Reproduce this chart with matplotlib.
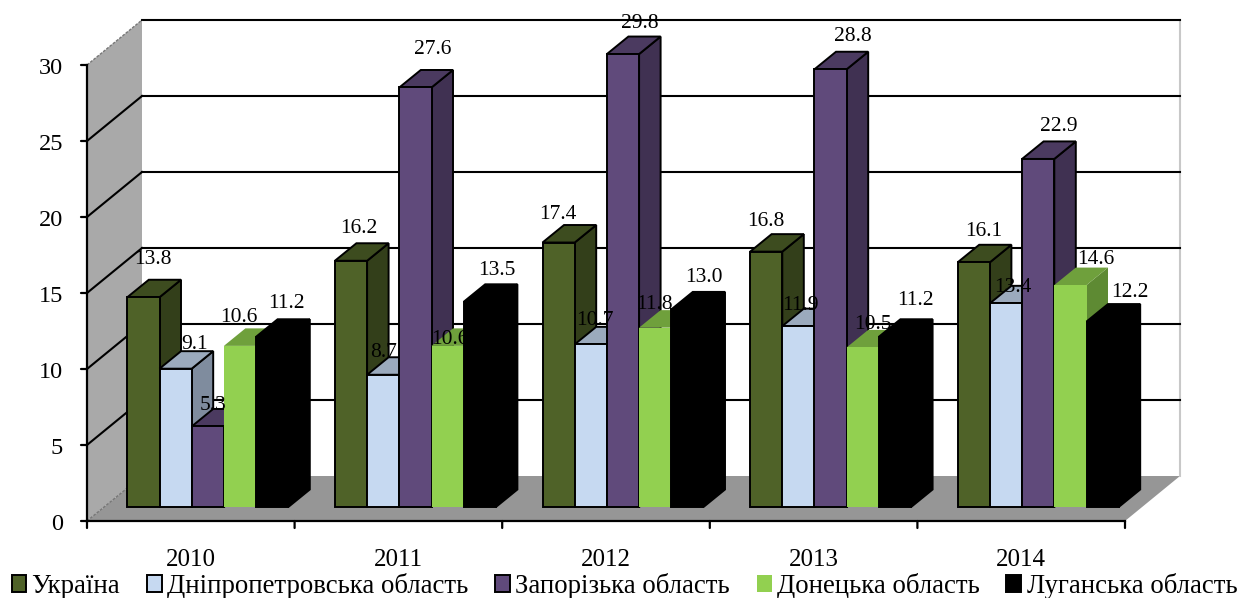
import matplotlib
matplotlib.use('Agg')
import matplotlib.pyplot as plt
from matplotlib.patches import Polygon, Patch

plt.rcParams['font.family'] = ['Liberation Serif', 'DejaVu Serif']

# Data
years = ['2010', '2011', '2012', '2013', '2014']
ukraine = [13.8, 16.2, 17.4, 16.8, 16.1]
dnipro = [9.1, 8.7, 10.7, 11.9, 13.4]
zaporizhzhia = [5.3, 27.6, 29.8, 28.8, 22.9]
donetsk = [10.6, 10.6, 11.8, 10.5, 14.6]
luhansk = [11.2, 13.5, 13.0, 11.2, 12.2]
series_names = ['Україна', 'Дніпропетровська область', 'Запорізька область',
                'Донецька область', 'Луганська область']
series = [ukraine, dnipro, zaporizhzhia, donetsk, luhansk]
y_ticks = [0, 5, 10, 15, 20, 25, 30]

# Colours per series: front, top, side
colors = [('#4F6228', '#3D4C1F', '#333F1A'),
          ('#C6D9F1', '#9BAABD', '#7F8C9E'),
          ('#604A7B', '#4B3A60', '#403152'),
          ('#92D050', '#6FA03C', '#5E8A33'),
          ('#000000', '#000000', '#000000')]
edges = ['black', 'black', 'black', 'none', 'black']

# Label nudges in pixels from the front top centre of each bar
label_offsets = [[(10, 40), (8, 34), (-1, 30), (0, 32), (10, 33)],
                 [(19, 26), (0, 24), (4, 26), (2, 23), (7, 18)],
                 [(5, 23), (17, 40), (17, 33), (22, 35), (21, 34)],
                 [(-1, 30), (2, 8), (-1, 25), (10, 25), (25, 28)],
                 [(14, 35), (17, 33), (17, 34), (20, 38), (27, 31)]]

# Pixel scale of the plot
W, H = 1240, 598
x0_px, y0_px = 87, 521
cat_px, unit_px = 207.6, 15.2

fig = plt.figure(figsize=(W / 100, H / 100), dpi=100)
ax = fig.add_axes([0, 0, 1, 1])
ax.set_xlim(-x0_px / cat_px, (W - x0_px) / cat_px)
ax.set_ylim((y0_px - H) / unit_px, y0_px / unit_px)
ax.axis('off')

# Depth of the box and of the bars, in data units
n = len(years)
ymax = max(y_ticks)
depth_x, depth_y = 55 / cat_px, 45 / unit_px
bar_dx, bar_dy = 21.5 / cat_px, 17.5 / unit_px
base_dx, base_dy = 17 / cat_px, 14 / unit_px
bar_w = 32.2 / cat_px
gap = (1 - bar_w * len(series)) / 2

# Walls and floor
ax.add_patch(Polygon([(0, 0), (depth_x, depth_y), (depth_x, ymax + depth_y), (0, ymax)],
                     fc='#A9A9A9', ec='none', zorder=1))
ax.add_patch(Polygon([(0, 0), (depth_x, depth_y), (n + depth_x, depth_y), (n, 0)],
                     fc='#969696', ec='none', zorder=1))
ax.plot([n + depth_x] * 2, [depth_y, ymax + depth_y], color='#C8C8C8', lw=1.5, zorder=1)

# Grid
for v in y_ticks[1:]:
    ax.plot([depth_x, n + depth_x], [v + depth_y] * 2, color='black', lw=1.5, zorder=2)
    if v < ymax:
        ax.plot([0, depth_x], [v, v + depth_y], color='black', lw=1.5, zorder=2)
for v in [0, ymax]:
    ax.plot([0, depth_x], [v, v + depth_y], color='#777777', lw=1, ls=(0, (2, 1)), zorder=2)

# Bars
z = 3
for i in range(n):
    for j, vals in enumerate(series):
        x = i + gap + j * bar_w + base_dx
        b = base_dy
        t = b + vals[i]
        front, top, side = colors[j]
        kw = dict(ec=edges[j], lw=1.4, joinstyle='miter')
        ax.add_patch(Polygon([(x + bar_w, b), (x + bar_w + bar_dx, b + bar_dy),
                              (x + bar_w + bar_dx, t + bar_dy), (x + bar_w, t)],
                             fc=side, zorder=z, **kw))
        ax.add_patch(Polygon([(x, t), (x + bar_dx, t + bar_dy),
                              (x + bar_w + bar_dx, t + bar_dy), (x + bar_w, t)],
                             fc=top, zorder=z, **kw))
        ax.add_patch(Polygon([(x, b), (x + bar_w, b), (x + bar_w, t), (x, t)],
                             fc=front, zorder=z + 0.5, **kw))
        z += 1

# Value labels
for j, vals in enumerate(series):
    for i, v in enumerate(vals):
        x = i + gap + (j + 0.5) * bar_w + base_dx
        dx, dy = label_offsets[j][i]
        ax.annotate(f'{v:.1f}', (x, base_dy + v), xytext=(dx, dy - 2),
                    textcoords='offset pixels', ha='center', va='center',
                    fontsize=15.5, color='black', zorder=100)

# Axes lines, ticks and tick labels
ax.plot([0, 0], [0, ymax], color='black', lw=1.6, zorder=50)
ax.plot([0, n], [0, 0], color='black', lw=1.6, zorder=50)
for v in y_ticks:
    ax.annotate('', (0, v), xytext=(-6, 0), textcoords='offset pixels',
                arrowprops=dict(arrowstyle='-', lw=1.6, color='black', shrinkA=0, shrinkB=0))
    ax.annotate(str(v), (0, v), xytext=(-24, -3), textcoords='offset pixels',
                ha='right', va='center', fontsize=17.5)
for i in range(n + 1):
    ax.annotate('', (i, 0), xytext=(0, -7), textcoords='offset pixels',
                arrowprops=dict(arrowstyle='-', lw=1.6, color='black', shrinkA=0, shrinkB=0))
for i, year in enumerate(years):
    ax.annotate(year, (i + 0.5, 0), xytext=(0, -39), textcoords='offset pixels',
                ha='center', va='center', fontsize=18)

# Legend
handles = [Patch(fc=c[0], ec='black' if c[0] != '#92D050' else 'none', lw=1.4) for c in colors]
fig.legend(handles, series_names, loc='center', bbox_to_anchor=(0.5035, 0.02), ncol=5,
           frameon=False, fontsize=19.3, handlelength=0.55, handleheight=0.55,
           handletextpad=0.2, columnspacing=1.0, borderaxespad=0, borderpad=0)

fig.savefig('out.png', dpi=100)
